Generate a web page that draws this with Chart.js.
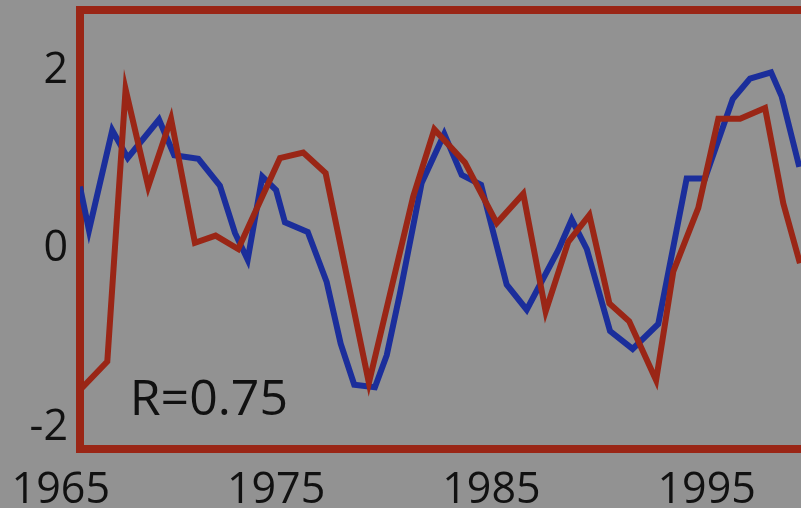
<!DOCTYPE html>
<html>
<head>
<meta charset="utf-8">
<script src="https://cdn.jsdelivr.net/npm/chart.js@4/dist/chart.umd.min.js"></script>
<style>
  html, body { margin: 0; padding: 0; background: #929292; overflow: hidden; }
  #moldura { width: 801px; height: 508px; overflow: hidden; }
</style>
</head>
<body>
<div id="moldura">
  <canvas id="grafico" width="840" height="508"></canvas>
</div>
<script>
const anosVermelho = [1965.97, 1967.16, 1968.01, 1969.06, 1970.12, 1971.23, 1972.19, 1973.24,
  1975.18, 1976.26, 1977.30, 1979.31, 1981.37, 1982.35, 1983.77, 1985.25, 1986.48, 1987.52,
  1988.57, 1989.55, 1990.48, 1991.40, 1992.65, 1993.45, 1994.61, 1995.54, 1996.55, 1997.71,
  1998.56, 1999.33];
const valoresVermelho = [-1.56, -1.26, 1.79, 0.70, 1.46, 0.07, 0.15, 0.00,
  1.02, 1.08, 0.85, -1.50, 0.59, 1.34, 0.97, 0.29, 0.62, -0.70,
  0.08, 0.38, -0.61, -0.81, -1.47, -0.25, 0.46, 1.46, 1.46, 1.58,
  0.51, -0.16];

// Série azul
const anosAzul = [1965.89, 1966.31, 1967.39, 1968.11, 1969.56, 1970.27, 1971.39, 1972.39,
  1973.09, 1973.68, 1974.36, 1975.00, 1975.41, 1976.47, 1977.35, 1978.00, 1978.63, 1979.59,
  1980.14, 1980.75, 1981.76, 1982.81, 1983.62, 1984.52, 1985.71, 1986.64, 1988.11, 1988.73,
  1989.43, 1990.51, 1991.56, 1992.75, 1994.07, 1994.92, 1996.21, 1997.01, 1997.99, 1998.48,
  1999.30];
const valoresAzul = [0.70, 0.21, 1.33, 1.02, 1.45, 1.05, 1.01, 0.71,
  0.18, -0.12, 0.81, 0.66, 0.30, 0.19, -0.37, -1.06, -1.52, -1.55,
  -1.19, -0.50, 0.74, 1.29, 0.83, 0.72, -0.40, -0.68, -0.01, 0.33,
  0.00, -0.92, -1.12, -0.84, 0.79, 0.79, 1.68, 1.91, 1.98, 1.71,
  0.92];

const ticksX = [1965, 1975, 1985, 1995];
const ticksY = [-2, 0, 2];
const textoR = 'R=0.75';

const VERMELHO = '#9a2616';
const AZUL = '#1b2e9b';
const FONTE = "'Open Sans', sans-serif";

const juntar = (xs, ys) => xs.map((x, i) => ({ x, y: ys[i] }));

const pluginMoldura = {
  id: 'moldura',
  beforeDraw(chart) {
    const ctx = chart.ctx;
    ctx.save();
    ctx.fillStyle = '#929292';
    ctx.fillRect(0, 0, chart.width, chart.height);
    ctx.restore();
  },
  beforeDatasetsDraw(chart) {
    const { ctx, chartArea } = chart;
    ctx.save();
    ctx.strokeStyle = VERMELHO;
    ctx.lineWidth = 8;
    ctx.strokeRect(chartArea.left, chartArea.top,
      chartArea.right - chartArea.left, chartArea.bottom - chartArea.top);
    ctx.restore();
  },
  afterDatasetsDraw(chart) {
    const { ctx, scales } = chart;
    ctx.save();
    ctx.fillStyle = '#111';
    ctx.font = '50px ' + FONTE;
    ctx.textBaseline = 'alphabetic';
    ctx.textAlign = 'left';
    ctx.fillText(textoR, scales.x.getPixelForValue(1968.2), scales.y.getPixelForValue(-1.86));
    ctx.restore();
  },
};

new Chart(document.getElementById('grafico'), {
  type: 'line',
  data: {
    datasets: [
      {
        data: juntar(anosVermelho, valoresVermelho),
        borderColor: VERMELHO,
        borderWidth: 6,
        pointRadius: 0,
        tension: 0,
      },
      {
        data: juntar(anosAzul, valoresAzul),
        borderColor: AZUL,
        borderWidth: 6,
        pointRadius: 0,
        tension: 0,
      },
    ],
  },
  options: {
    responsive: false,
    animation: false,
    layout: { padding: { top: 10, right: 5, left: 0, bottom: 0 } },
    plugins: { legend: { display: false }, tooltip: { enabled: false } },
    scales: {
      x: {
        type: 'linear',
        min: 1965.892,
        max: 2000.959,
        grid: { display: false, drawTicks: false },
        border: { display: false },
        afterBuildTicks: (scale) => { scale.ticks = ticksX.map((v) => ({ value: v })); },
        afterFit: (scale) => {
          scale.height = 59;
          scale.paddingLeft = 0;
          scale.paddingRight = 0;
        },
        ticks: {
          autoSkip: false,
          maxRotation: 0,
          padding: 16,
          color: '#111',
          font: { family: FONTE, size: 43 },
          callback: (v) => String(v),
        },
      },
      y: {
        min: -2.241,
        max: 2.678,
        grid: { display: false, drawTicks: false },
        border: { display: false },
        afterBuildTicks: (scale) => { scale.ticks = ticksY.map((v) => ({ value: v })); },
        afterFit: (scale) => {
          scale.width = 80;
          scale.paddingTop = 0;
          scale.paddingBottom = 0;
        },
        ticks: {
          padding: 12,
          color: '#111',
          font: { family: FONTE, size: 43 },
          callback: (v) => String(v),
        },
      },
    },
  },
  plugins: [pluginMoldura],
});
</script>
</body>
</html>
